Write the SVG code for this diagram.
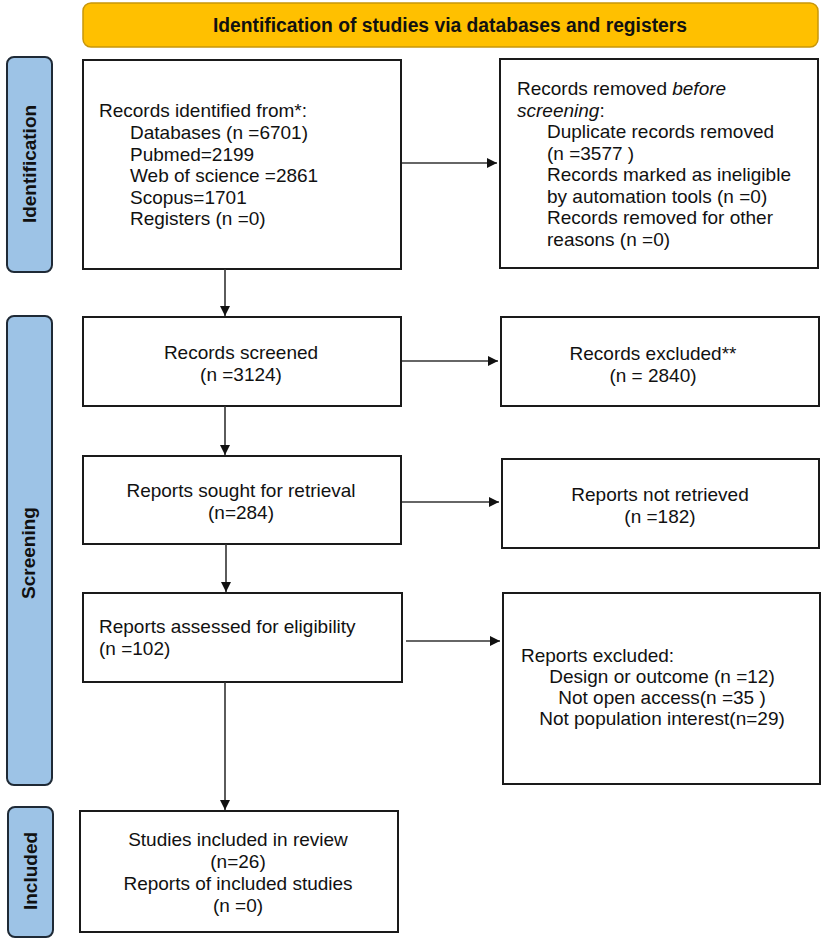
<svg xmlns="http://www.w3.org/2000/svg" width="824" height="942" viewBox="0 0 824 942">
<style>
  .box { fill: #ffffff; stroke: #1a1a1a; stroke-width: 2; }
  .side { fill: #9dc3e6; stroke: #1f2a36; stroke-width: 2; }
  .hdr { fill: #ffc000; stroke: #c8960a; stroke-width: 1.5; }
  .t { font-family: "Liberation Sans", Arial, sans-serif; font-size: 19px; fill: #111111; }
  .c { text-anchor: middle; }
  .sl { font-family: "Liberation Sans", Arial, sans-serif; font-size: 19px; font-weight: bold; fill: #111111; text-anchor: middle; }
  .ht { font-family: "Liberation Sans", Arial, sans-serif; font-size: 20px; font-weight: bold; fill: #111111; text-anchor: middle; }
  .conn { stroke: #333333; stroke-width: 1.6; fill: none; marker-end: url(#arr); }
</style>
<defs>
  <marker id="arr" viewBox="0 0 10 10" refX="10" refY="5" markerWidth="10" markerHeight="10" markerUnits="userSpaceOnUse" orient="auto">
    <path d="M0,0 L10,5 L0,10 z" fill="#111111"/>
  </marker>
</defs>
<rect width="824" height="942" fill="#ffffff"/>

<g id="header">
  <rect class="hdr" x="83" y="3" width="735" height="44" rx="8"/>
  <text class="ht" x="450" y="32" textLength="474" lengthAdjust="spacingAndGlyphs">Identification of studies via databases and registers</text>
</g>

<g id="label-identification">
  <rect class="side" x="7" y="57" width="45" height="215" rx="7"/>
  <text class="sl" transform="translate(36,164) rotate(-90)">Identification</text>
</g>
<g id="label-screening">
  <rect class="side" x="7" y="316" width="45" height="469" rx="7"/>
  <text class="sl" transform="translate(35,553) rotate(-90)">Screening</text>
</g>
<g id="label-included">
  <rect class="side" x="8" y="807" width="45" height="130" rx="7"/>
  <text class="sl" transform="translate(37,871) rotate(-90)">Included</text>
</g>

<g id="records-identified">
  <rect class="box" x="83" y="60" width="318" height="209"/>
  <text class="t" x="99" y="117">Records identified from*:</text>
  <text class="t" x="130" y="139">Databases (n =6701)</text>
  <text class="t" x="130" y="160.5">Pubmed=2199</text>
  <text class="t" x="130" y="182">Web of science =2861</text>
  <text class="t" x="130" y="203.5">Scopus=1701</text>
  <text class="t" x="130" y="225">Registers (n =0)</text>
</g>

<g id="records-removed">
  <rect class="box" x="500" y="59" width="318" height="209"/>
  <text class="t" x="517" y="95">Records removed <tspan font-style="italic">before</tspan></text>
  <text class="t" x="517" y="116.5"><tspan font-style="italic">screening</tspan>:</text>
  <text class="t" x="547" y="138">Duplicate records removed</text>
  <text class="t" x="547" y="159.5">(n =3577 )</text>
  <text class="t" x="547" y="181">Records marked as ineligible</text>
  <text class="t" x="547" y="202.5">by automation tools (n =0)</text>
  <text class="t" x="547" y="224">Records removed for other</text>
  <text class="t" x="547" y="245.5">reasons (n =0)</text>
</g>

<g id="records-screened">
  <rect class="box" x="83" y="317" width="318" height="89"/>
  <text class="t c" x="241" y="359">Records screened</text>
  <text class="t c" x="241" y="381">(n =3124)</text>
</g>

<g id="records-excluded">
  <rect class="box" x="501" y="317" width="318" height="89"/>
  <text class="t c" x="653" y="360">Records excluded**</text>
  <text class="t c" x="653" y="382">(n = 2840)</text>
</g>

<g id="reports-sought">
  <rect class="box" x="83" y="456" width="318" height="88"/>
  <text class="t c" x="241" y="497">Reports sought for retrieval</text>
  <text class="t c" x="241" y="519">(n=284)</text>
</g>

<g id="reports-not-retrieved">
  <rect class="box" x="502" y="459" width="317" height="89"/>
  <text class="t c" x="660" y="501">Reports not retrieved</text>
  <text class="t c" x="660" y="523">(n =182)</text>
</g>

<g id="reports-assessed">
  <rect class="box" x="83" y="593" width="319" height="89"/>
  <text class="t" x="99" y="633">Reports assessed for eligibility</text>
  <text class="t" x="99" y="655">(n =102)</text>
</g>

<g id="reports-excluded">
  <rect class="box" x="503" y="593" width="317" height="191"/>
  <text class="t" x="521" y="662">Reports excluded:</text>
  <text class="t c" x="662" y="683">Design or outcome (n =12)</text>
  <text class="t c" x="662" y="704">Not open access(n =35 )</text>
  <text class="t c" x="662" y="725">Not population interest(n=29)</text>
</g>

<g id="studies-included">
  <rect class="box" x="80" y="811" width="318" height="121"/>
  <text class="t c" x="238" y="846">Studies included in review</text>
  <text class="t c" x="238" y="868">(n=26)</text>
  <text class="t c" x="238" y="890">Reports of included studies</text>
  <text class="t c" x="238" y="912">(n =0)</text>
</g>

<g id="connectors">
  <line class="conn" x1="402" y1="163" x2="497" y2="163"/>
  <line class="conn" x1="225" y1="269" x2="225" y2="316"/>
  <line class="conn" x1="402" y1="361" x2="498" y2="361"/>
  <line class="conn" x1="225" y1="406" x2="225" y2="455"/>
  <line class="conn" x1="402" y1="502" x2="499" y2="502"/>
  <line class="conn" x1="226" y1="544" x2="226" y2="592"/>
  <line class="conn" x1="406" y1="641" x2="500" y2="641"/>
  <line class="conn" x1="225" y1="682" x2="225" y2="810"/>
</g>
</svg>
